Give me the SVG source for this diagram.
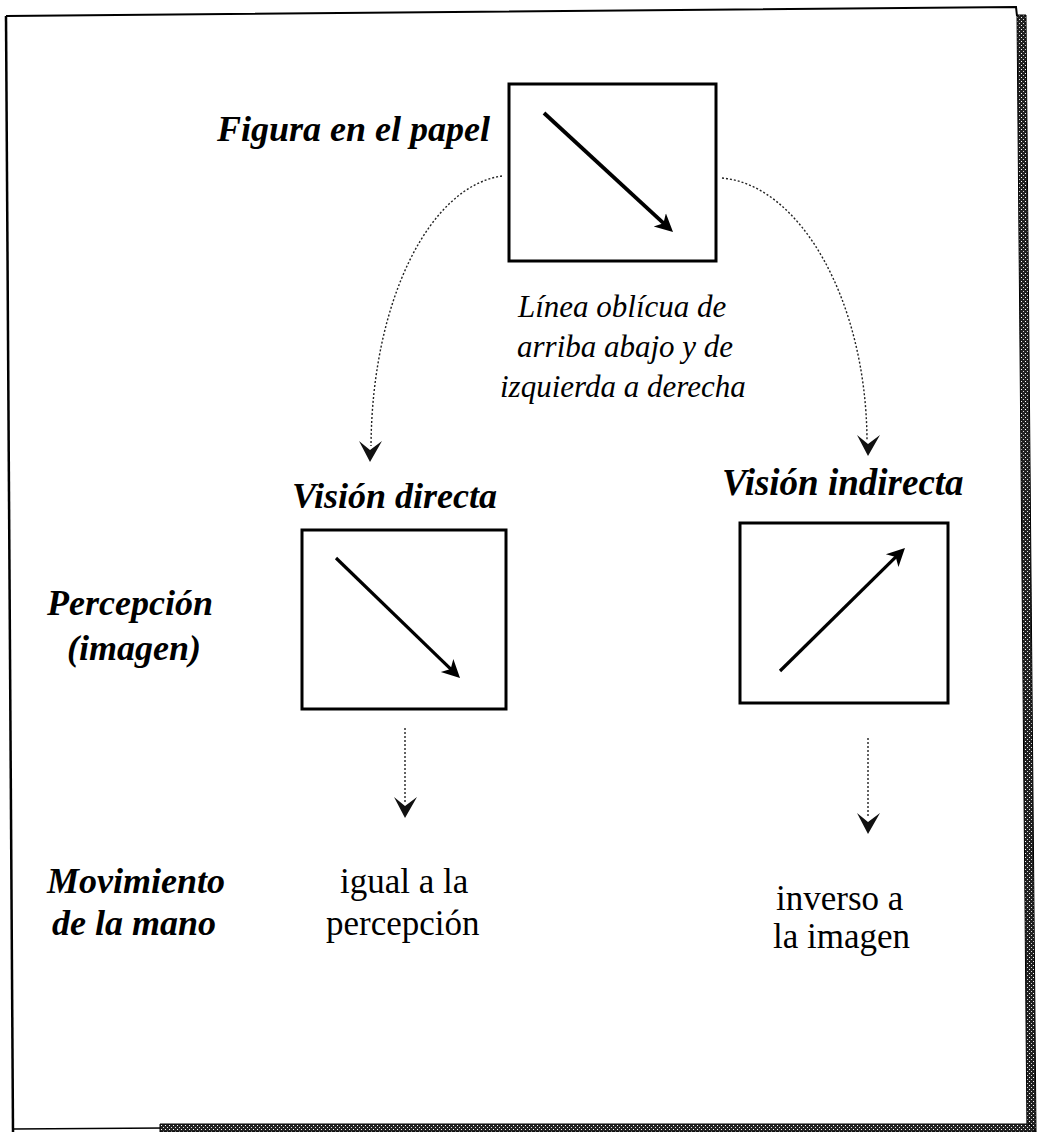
<svg xmlns="http://www.w3.org/2000/svg" width="1039" height="1132" viewBox="0 0 1039 1132">
  <style>
    .box { fill: none; stroke: #000; stroke-width: 3; }
    .shaft { stroke: #000; stroke-width: 3.2; fill: none; }
    .conn { stroke: #222; stroke-width: 1.4; fill: none; stroke-dasharray: 2 2; }
    .head { fill: #111; }
    .bi { font-family: "Liberation Serif", "Times New Roman", serif; font-style: italic; font-weight: bold; font-size: 36px; fill: #000; }
    .it { font-family: "Liberation Serif", "Times New Roman", serif; font-style: italic; font-size: 31px; fill: #000; }
    .rg { font-family: "Liberation Serif", "Times New Roman", serif; font-size: 35px; fill: #000; }
  </style>
  <defs>
    <marker id="ah" viewBox="0 -10 20 20" markerWidth="20" markerHeight="20" refX="12" refY="0" orient="auto" markerUnits="userSpaceOnUse">
      <path d="M18,0 L0,-9 L5,0 L0,9 Z" fill="#000"/>
    </marker>
    <pattern id="hatch" width="4" height="4" patternUnits="userSpaceOnUse">
      <rect width="4" height="4" fill="#222"/>
      <rect x="1" y="1" width="1" height="1" fill="#fff"/>
      <rect x="3" y="3" width="1" height="1" fill="#ddd"/>
    </pattern>
  </defs>

  <rect width="1039" height="1132" fill="#fff"/>

  <g id="frame">
    <path d="M6,16 L1016,7 L1017,16" fill="none" stroke="#000" stroke-width="2"/>
    <path d="M6,16 L13,1132" fill="none" stroke="#000" stroke-width="2.5"/>
    <path d="M13,1129 L165,1128" fill="none" stroke="#000" stroke-width="1.5"/>
    <polygon points="1017,15 1026,15 1036,1132 1027,1132" fill="url(#hatch)" stroke="#000" stroke-width="1"/>
    <polygon points="160,1124 1030,1124 1036,1132 160,1132" fill="url(#hatch)" stroke="#000" stroke-width="1"/>
  </g>

  <g id="node-figura">
    <text class="bi" x="217" y="141">Figura en el papel</text>
    <rect class="box" x="509" y="84" width="207" height="177"/>
    <line class="shaft" x1="544" y1="113" x2="668.6" y2="227.9" marker-end="url(#ah)" style="stroke-width:3.8"/>
    <text class="it" x="518" y="317">Línea oblícua de</text>
    <text class="it" x="517" y="357">arriba abajo y de</text>
    <text class="it" x="500" y="397">izquierda a derecha</text>
  </g>

  <g id="node-percepcion-label">
    <text class="bi" x="47" y="615">Percepción</text>
    <text class="bi" x="67" y="660">(imagen)</text>
  </g>

  <g id="node-vision-directa">
    <text class="bi" x="292" y="508">Visión directa</text>
    <rect class="box" x="302" y="530" width="204" height="179"/>
    <line class="shaft" x1="336" y1="558" x2="455.7" y2="673.8" marker-end="url(#ah)"/>
  </g>

  <g id="node-vision-indirecta">
    <text class="bi" x="722" y="495" style="font-size:37px">Visión indirecta</text>
    <rect class="box" x="740" y="523" width="208" height="180"/>
    <line class="shaft" x1="780" y1="671" x2="900.7" y2="552.2" marker-end="url(#ah)"/>
  </g>

  <g id="node-movimiento-label">
    <text class="bi" x="47" y="893">Movimiento</text>
    <text class="bi" x="52" y="935">de la mano</text>
  </g>

  <g id="node-igual">
    <text class="rg" x="340" y="893">igual a la</text>
    <text class="rg" x="326" y="935">percepción</text>
  </g>

  <g id="node-inverso">
    <text class="rg" x="776" y="910">inverso a</text>
    <text class="rg" x="773" y="948">la imagen</text>
  </g>

  <g id="connectors">
    <path class="conn" d="M502,176 C430,186 372,300 371,446"/>
    <path class="head" d="M370,462 L359,441 L370,450 L382,441 Z"/>
    <path class="conn" d="M722,178 C800,185 866,300 867,440"/>
    <path class="head" d="M868,456 L857,435 L868,444 L880,435 Z"/>
    <path class="conn" d="M405,728 L405,802"/>
    <path class="head" d="M405,818 L394,797 L405,806 L417,797 Z"/>
    <path class="conn" d="M868,738 L868,818"/>
    <path class="head" d="M868,834 L857,813 L868,822 L880,813 Z"/>
  </g>
</svg>
